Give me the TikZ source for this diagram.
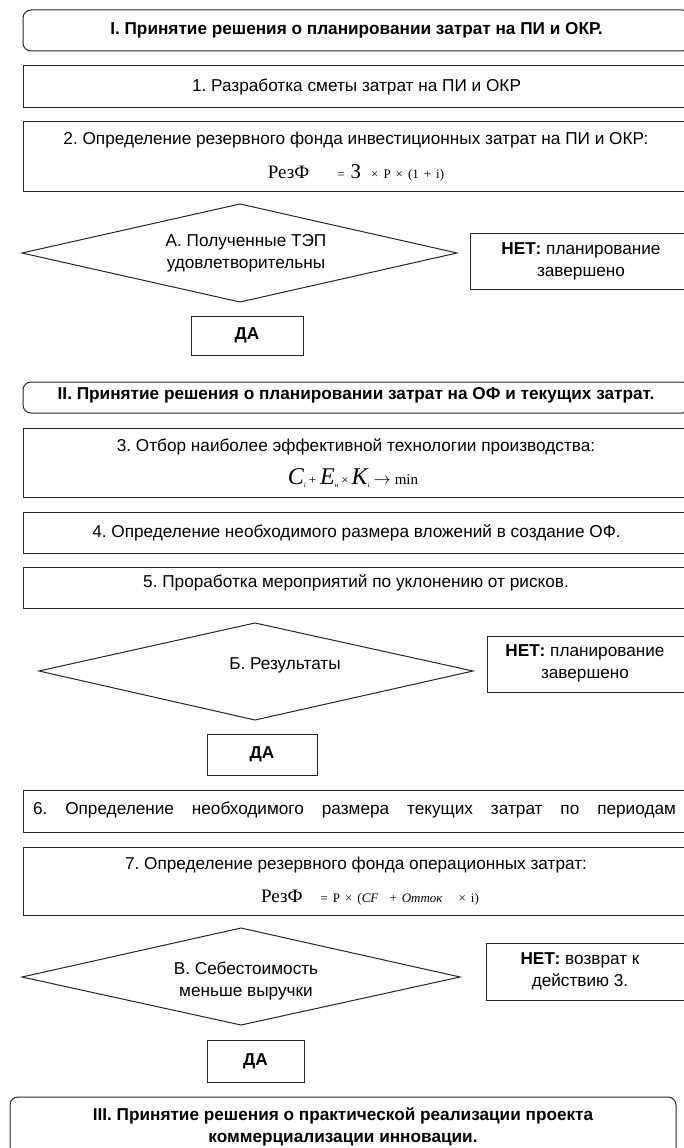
\documentclass[tikz,border=0pt]{standalone}
\usepackage{fontspec}
\setmainfont{Liberation Sans}
\newfontfamily\tnr{Liberation Serif}
\newcommand{\fmsmall}{\tnr\fontsize{13}{14}\selectfont}
\newcommand{\fmbig}{\tnr\fontsize{19}{20}\selectfont}
\newcommand{\fsp}{\hspace{5pt}}
\frenchspacing
\begin{document}
\begin{tikzpicture}[x=1pt,y=-1pt,
  every node/.style={inner sep=0pt, outer sep=0pt},
  txt/.style={align=center, font=\fontsize{17.2}{22}\selectfont},
  btxt/.style={align=center, font=\fontsize{17.2}{22}\selectfont\bfseries},
  frame/.style={draw=black!85, line width=1pt, rectangle, anchor=north west},
  rframe/.style={frame, rounded corners=8pt},
]
\useasboundingbox (0,0) rectangle (684,1148);
\fill[white] (0,0) rectangle (684,1148);
\clip (0,0) rectangle (684,1148);

% ---- Block I
\node[rframe, minimum width=667pt, minimum height=41pt] (bI) at (23,10) {};
\node[btxt] (tI) at (bI.center) {I. Принятие решения о планировании затрат на ПИ и ОКР.};

\node[frame, minimum width=667pt, minimum height=41pt] (b1) at (23,66) {};
\node[txt] (t1) at (b1.center) {1. Разработка сметы затрат на ПИ и ОКР};

\node[frame, minimum width=667pt, minimum height=70pt] (b2) at (23,121) {};
\node[txt] (t2) at (356,140) {2. Определение резервного фонда инвестиционных затрат на ПИ и ОКР:};
\node (f2) at (356,173) {{\fmbig РезФ}\hspace{28pt}{\fmsmall =}\hspace{6pt}{\tnr\fontsize{21}{21}\selectfont З}\hspace{10pt}{\fmsmall ×\fsp Р\fsp ×\fsp (1\fsp +\fsp i)}};

% ---- Decision A
\coordinate (dAl) at (22,253);
\coordinate (dAt) at (240,204);
\coordinate (dAr) at (457,253);
\coordinate (dAb) at (240,302);
\draw[draw=black!85, line width=1pt] (dAl) -- (dAt) -- (dAr) -- (dAb) -- cycle;
\node[txt] (tA) at (246,253) {А. Полученные ТЭП\\удовлетворительны};

\node[frame, minimum width=220pt, minimum height=56pt] (nA) at (470,233) {};
\node[txt] (tnA) at (581,261) {\textbf{НЕТ:} планирование\\завершено};

\node[frame, minimum width=112pt, minimum height=39pt] (yA) at (191,316) {};
\node[btxt] (tyA) at (yA.center) {ДА};

% ---- Block II
\node[rframe, minimum width=667pt, minimum height=31pt] (bII) at (23,382) {};
\node[btxt] (tII) at (356,395) {II. Принятие решения о планировании затрат на ОФ и текущих затрат.};

\node[frame, minimum width=667pt, minimum height=69pt] (b3) at (23,428) {};
\node[txt] (t3) at (356,447) {3. Отбор наиболее эффективной технологии производства:};
\node (f3) at (353,478) {{\tnr\itshape\fontsize{24}{24}\selectfont C}{\tnr\fontsize{7}{8}\selectfont\raisebox{-3pt}{\itshape i}}\hspace{3pt}{\tnr\fontsize{13}{14}\selectfont +}\hspace{4pt}{\tnr\itshape\fontsize{24}{24}\selectfont E}{\tnr\fontsize{7}{8}\selectfont\raisebox{-3pt}{\itshape н}}\hspace{3pt}{\tnr\fontsize{13}{14}\selectfont ×}\hspace{3pt}{\tnr\itshape\fontsize{24}{24}\selectfont K}{\tnr\fontsize{7}{8}\selectfont\raisebox{-3pt}{\itshape i}}\hspace{4pt}{\fontsize{17}{17}\selectfont$\rightarrow$}\hspace{4pt}{\tnr\fontsize{15}{15}\selectfont min}};

\node[frame, minimum width=667pt, minimum height=41pt] (b4) at (23,512) {};
\node[txt] (t4) at (b4.center) {4. Определение необходимого размера вложений в создание ОФ.};

\node[frame, minimum width=667pt, minimum height=41pt] (b5) at (23,567) {};
\node[txt] (t5) at (356,583) {5. Проработка мероприятий по уклонению от рисков.};

% ---- Decision B
\coordinate (dBl) at (39,671);
\coordinate (dBt) at (255,623);
\coordinate (dBr) at (473,671);
\coordinate (dBb) at (255,720);
\draw[draw=black!85, line width=1pt] (dBl) -- (dBt) -- (dBr) -- (dBb) -- cycle;
\node[txt] (tB) at (285,665) {Б. Результаты};

\node[frame, minimum width=203pt, minimum height=56pt] (nB) at (487,636) {};
\node[txt] (tnB) at (585,663) {\textbf{НЕТ:} планирование\\завершено};

\node[frame, minimum width=110pt, minimum height=41pt] (yB) at (207,734) {};
\node[btxt] (tyB) at (yB.center) {ДА};

% ---- Steps 6, 7
\node[frame, minimum width=667pt, minimum height=42pt] (b6) at (23,790) {};
\node[txt, anchor=west] (t6) at (33,810) {\makebox[643pt][s]{6. Определение необходимого размера текущих затрат по периодам}};

\node[frame, minimum width=667pt, minimum height=68pt] (b7) at (23,847) {};
\node[txt] (t7) at (356,865) {7. Определение резервного фонда операционных затрат:};
\node (f7) at (370,898) {{\fmbig РезФ}\hspace{18pt}{\fmsmall =\fsp Р\fsp ×\fsp (\textit{CF}\hspace{11pt}+\fsp\textit{Отток}\hspace{16pt}×\fsp i)}};

% ---- Decision C
\coordinate (dCl) at (22,977);
\coordinate (dCt) at (241,928);
\coordinate (dCr) at (460,977);
\coordinate (dCb) at (241,1025);
\draw[draw=black!85, line width=1pt] (dCl) -- (dCt) -- (dCr) -- (dCb) -- cycle;
\node[txt] (tC) at (246,981) {В. Себестоимость\\меньше выручки};

\node[frame, minimum width=204pt, minimum height=57pt] (nC) at (486,943) {};
\node[txt] (tnC) at (580,971) {\textbf{НЕТ:} возврат к\\действию 3.};

\node[frame, minimum width=97pt, minimum height=42pt] (yC) at (207,1040) {};
\node[btxt] (tyC) at (yC.center) {ДА};

% ---- Block III
\node[rframe, minimum width=666pt, minimum height=70pt] (bIII) at (10,1097) {};
\node[btxt] (tIII) at (343,1127) {III. Принятие решения о практической реализации проекта\\коммерциализации инновации.};
\end{tikzpicture}
\end{document}
